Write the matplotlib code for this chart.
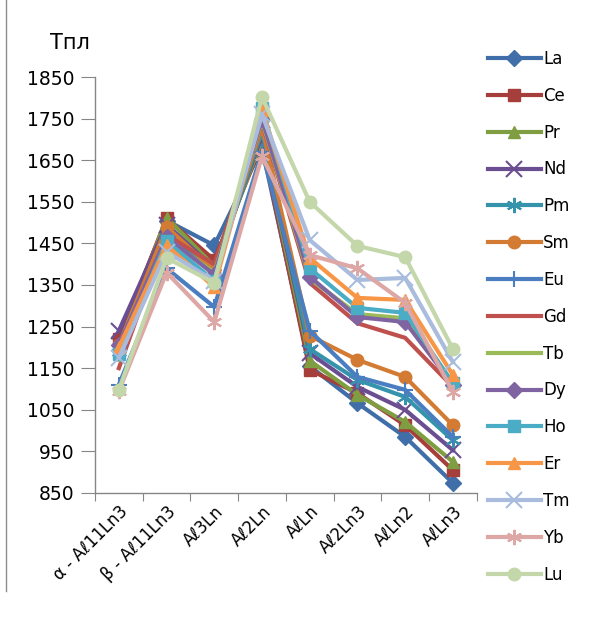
import matplotlib
matplotlib.use("Agg")
import matplotlib.pyplot as plt
from matplotlib.lines import Line2D
import numpy as np

categories = ["α - Aℓ11Ln3", "β - Aℓ11Ln3", "Aℓ3Ln", "Aℓ2Ln", "AℓLn", "Aℓ2Ln3", "AℓLn2", "AℓLn3"]

La = [1225, 1505, 1445, 1680, 1155, 1066, 985, 874]
Ce = [1220, 1510, 1410, 1690, 1146, 1090, 1013, 905]
Pr = [1200, 1512, 1395, 1700, 1168, 1086, 1021, 925]
Nd = [1240, 1495, 1390, 1710, 1186, 1105, 1050, 953]
Pm = [1190, 1480, 1380, 1720, 1196, 1122, 1081, 977]
Sm = [1205, 1490, 1385, 1730, 1228, 1170, 1129, 1013]
Eu = [1110, 1390, 1297, 1670, 1240, 1129, 1098, 985]
Gd = [1150, 1470, 1400, 1740, 1355, 1258, 1223, 1105]
Tb = [1170, 1460, 1380, 1745, 1365, 1280, 1270, 1115]
Dy = [1205, 1465, 1375, 1750, 1370, 1273, 1261, 1110]
Ho = [1185, 1455, 1360, 1775, 1390, 1295, 1283, 1114]
Er = [1200, 1445, 1345, 1770, 1415, 1319, 1314, 1134]
Tm = [1175, 1430, 1360, 1760, 1458, 1362, 1367, 1165]
Yb = [1095, 1380, 1261, 1660, 1422, 1390, 1307, 1093]
Lu = [1098, 1415, 1355, 1802, 1550, 1444, 1417, 1196]

series_names = ["La", "Ce", "Pr", "Nd", "Pm", "Sm", "Eu", "Gd", "Tb", "Dy", "Ho", "Er", "Tm", "Yb", "Lu"]
series_vals = [La, Ce, Pr, Nd, Pm, Sm, Eu, Gd, Tb, Dy, Ho, Er, Tm, Yb, Lu]

colors = ["#3F6EA8", "#A63E3B", "#7F9E42", "#6B4E91", "#3594AB", "#D37A33", "#4A7EC0",
          "#C0504D", "#9BBB59", "#8064A2", "#4BACC6", "#F79646", "#A9BCDD", "#DDA7A6", "#C4D7AA"]
markers = ["D", "s", "^", "x", (6, 2, 0), "o", "+", None, None, "D", "s", "^", "x", (6, 2, 0), "o"]
msizes = [8, 9, 9, 11, 11, 9, 12, 0, 0, 8, 9, 9, 11, 11, 9]

fig = plt.figure(figsize=(5.90, 6.19), dpi=100)
ax = fig.add_axes([0.161, 0.2036, 0.647, 0.672])

x = np.arange(len(categories))
for name, vals, c, m, ms in zip(series_names, series_vals, colors, markers, msizes):
    kw = dict(color=c, lw=3.0, label=name, solid_joinstyle="round")
    if m is not None:
        kw.update(marker=m, markersize=ms, markeredgecolor=c, markerfacecolor=c,
                  markeredgewidth=1.5 if m in ("x", "+", (6, 2, 0)) else 1.0)
    ax.plot(x, vals, **kw)

ax.set_xlim(-0.5, len(categories) - 0.5)
ax.set_ylim(850, 1850)
ax.set_yticks(np.arange(850, 1851, 100))
ax.set_xticks(np.arange(-0.5, len(categories), 1.0))
ax.set_xticklabels([])
ax.set_xticks(x, minor=True)
ax.set_xticklabels(categories, minor=True, rotation=45, ha="right", va="top",
                   rotation_mode="anchor", fontsize=12)
ax.tick_params(axis="x", which="minor", length=0, pad=7)
ax.tick_params(axis="x", which="major", length=6, color="#868686", direction="out")
ax.tick_params(axis="y", length=10, color="#868686", direction="out", labelsize=13.5, pad=5)
for s in ["top", "right"]:
    ax.spines[s].set_visible(False)
for s in ["left", "bottom"]:
    ax.spines[s].set_color("#868686")
    ax.spines[s].set_linewidth(1.0)

fig.text(0.085, 0.93, "Тпл", fontsize=15, ha="left", va="center")

leg = fig.legend(loc="upper left", bbox_to_anchor=(0.815, 0.93), frameon=False,
                 fontsize=12, handlelength=3.2, labelspacing=1.13, handletextpad=0.15,
                 borderaxespad=0)

fig.add_artist(Line2D([0.011, 0.011], [0.045, 1.0], transform=fig.transFigure,
                      color="#8C8C8C", lw=1.0))

fig.savefig("out.png", dpi=100)
